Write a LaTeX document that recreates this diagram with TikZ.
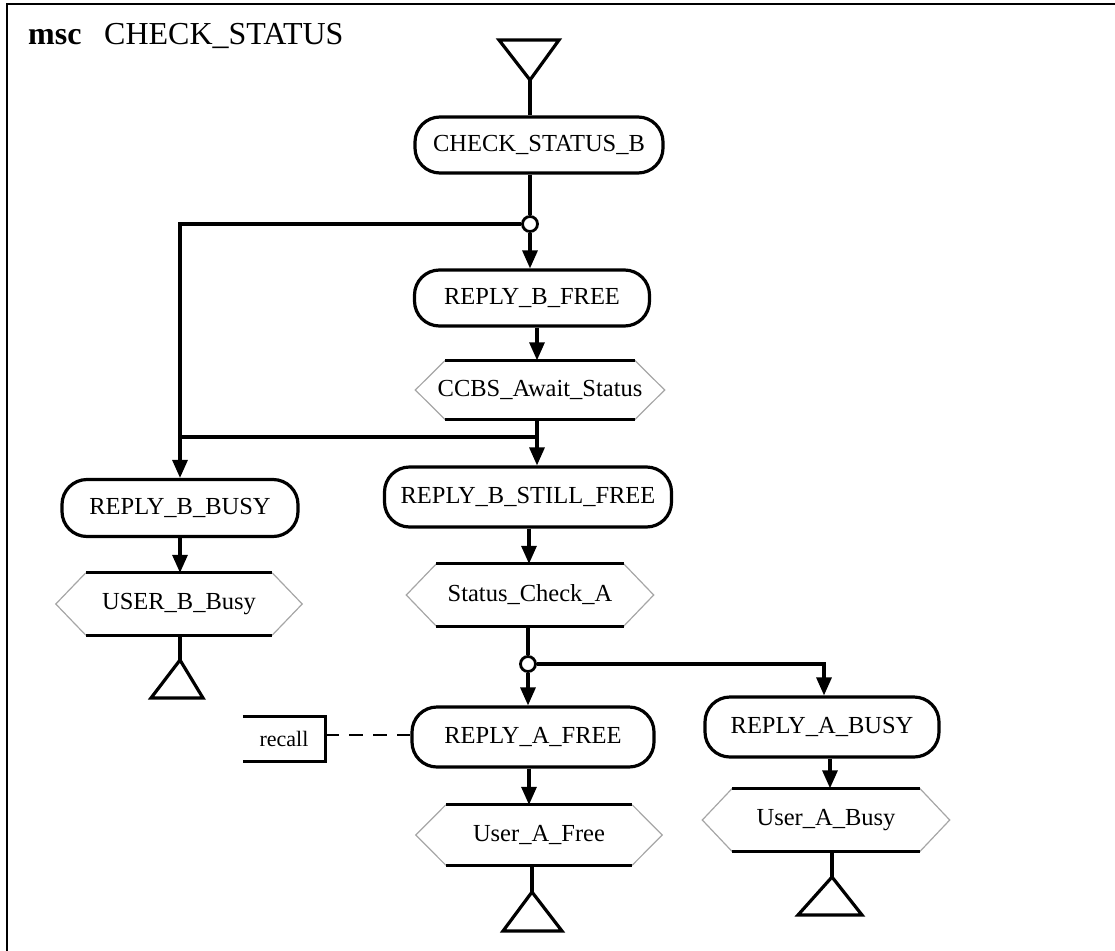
\documentclass[tikz,border=0pt]{standalone}
\usepackage{fontspec}
\setmainfont{Liberation Serif}
\usetikzlibrary{arrows.meta}
\newcommand\hexdraw[1]{%
  \draw[gray!70, line width=1.2pt] ([xshift=30pt]#1.north west) -- (#1.west) -- ([xshift=30pt]#1.south west);
  \draw[gray!70, line width=1.2pt] ([xshift=-30pt]#1.north east) -- (#1.east) -- ([xshift=-30pt]#1.south east);
  \draw[line width=3pt] ([xshift=30pt]#1.north west) -- ([xshift=-30pt]#1.north east);
  \draw[line width=3pt] ([xshift=30pt]#1.south west) -- ([xshift=-30pt]#1.south east);
}
\tikzset{
  conn/.style={line width=3.2pt},
  arr/.style={line width=3.2pt, -{Triangle[length=18pt,width=15pt]}},
  msgbox/.style={draw, line width=3.2pt, rectangle, rounded corners=25pt, inner sep=0pt,
     font=\fontsize{24.5}{28}\selectfont},
  hexstate/.style={rectangle, inner sep=0pt, font=\fontsize{24.5}{28}\selectfont},
  junct/.style={circle, draw, line width=2.8pt, fill=white, minimum size=15pt, inner sep=0pt},
  endtri/.style={line width=3.2pt, line join=miter},
}
\begin{document}
\begin{tikzpicture}[x=1pt,y=-1pt]
\useasboundingbox (0,0) rectangle (1115,950);
% frame
\draw[line width=2.8pt] (7,952) -- (7,4) -- (1117,4);
\node[anchor=base west, font=\fontsize{32}{36}\selectfont\bfseries, inner sep=0pt] (msc) at (28,45) {msc};
\node[anchor=base west, font=\fontsize{32}{36}\selectfont, inner sep=0pt] (title) at (104,45) {CHECK\_STATUS};

% start symbol
\coordinate (start) at (530,80);
\draw[endtri] (499,40) -- (559,40) -- (start) -- cycle;

\node[msgbox, minimum width=248pt, minimum height=56pt] (csb) at (539,145) {CHECK\_STATUS\_B};
\node[junct] (j1) at (530,224) {};
\node[msgbox, minimum width=235pt, minimum height=56pt] (rbf) at (532,298) {REPLY\_B\_FREE};
\node[hexstate, minimum width=249pt, minimum height=59pt] (ccbs) at (540,390) {CCBS\_Await\_Status};
\hexdraw{ccbs}
\coordinate (m) at (537,437);
\coordinate (mleft) at (180,437);
\node[msgbox, minimum width=287pt, minimum height=60pt] (rbsf) at (528,497) {REPLY\_B\_STILL\_FREE};
\node[hexstate, minimum width=247pt, minimum height=62pt] (sca) at (530,595) {Status\_Check\_A};
\hexdraw{sca}
\node[junct] (j2) at (528,664) {};
\node[msgbox, minimum width=242pt, minimum height=60pt] (raf) at (533,737) {REPLY\_A\_FREE};
\node[hexstate, minimum width=246pt, minimum height=60pt] (uaf) at (539,835) {User\_A\_Free};
\hexdraw{uaf}
\node[msgbox, minimum width=234pt, minimum height=60pt] (rab) at (822,727) {REPLY\_A\_BUSY};
\node[hexstate, minimum width=247pt, minimum height=63pt] (uab) at (826,820) {User\_A\_Busy};
\hexdraw{uab}
\node[msgbox, minimum width=236pt, minimum height=57pt] (rbb) at (180,508) {REPLY\_B\_BUSY};
\node[hexstate, minimum width=246pt, minimum height=62pt] (ubb) at (179,604) {USER\_B\_Busy};
\hexdraw{ubb}

% recall comment
\node[rectangle, inner sep=0pt, minimum width=82pt, minimum height=44pt, font=\fontsize{22}{26}\selectfont] (recall) at (284,739) {recall};
\draw[line width=2.8pt] (recall.north west) -- (recall.north east) -- (recall.south east) -- (recall.south west);
\draw[line width=2.8pt, dash pattern=on 14pt off 10pt] (recall.east |- 0,735) -- (raf.west |- 0,735);

% end symbols
\coordinate (end1) at (532,892);
\draw[endtri] (end1) -- (562,931) -- (503,931) -- cycle;
\coordinate (end2) at (832,877);
\draw[endtri] (end2) -- (862,915) -- (798,915) -- cycle;
\coordinate (end3) at (180,660);
\draw[endtri] (end3) -- (203,698) -- (151,698) -- cycle;

% connectors
\draw[conn] (start) -- (csb.north -| start);
\draw[conn] (csb.south -| j1) -- (j1);
\draw[arr] (j1) -- (rbf.north -| j1);
\draw[arr] (j1) -| (rbb.north);
\draw[arr] (rbf.south -| 537,0) -- (ccbs.north -| 537,0);
\draw[arr] (ccbs.south -| m) -- (rbsf.north -| m);
\draw[conn] (mleft) -- (m);
\draw[arr] (rbsf.south -| 529,0) -- (sca.north -| 529,0);
\draw[conn] (sca.south -| j2) -- (j2);
\draw[arr] (j2) -- (raf.north -| j2);
\draw[arr] (j2) -| (rab.north -| 824,0);
\draw[arr] (raf.south -| 529,0) -- (uaf.north -| 529,0);
\draw[conn] (uaf.south -| end1) -- (end1);
\draw[arr] (rab.south -| 830,0) -- (uab.north -| 830,0);
\draw[conn] (uab.south -| end2) -- (end2);
\draw[arr] (rbb.south) -- (ubb.north -| rbb.south);
\draw[conn] (ubb.south -| end3) -- (end3);
\end{tikzpicture}
\end{document}
